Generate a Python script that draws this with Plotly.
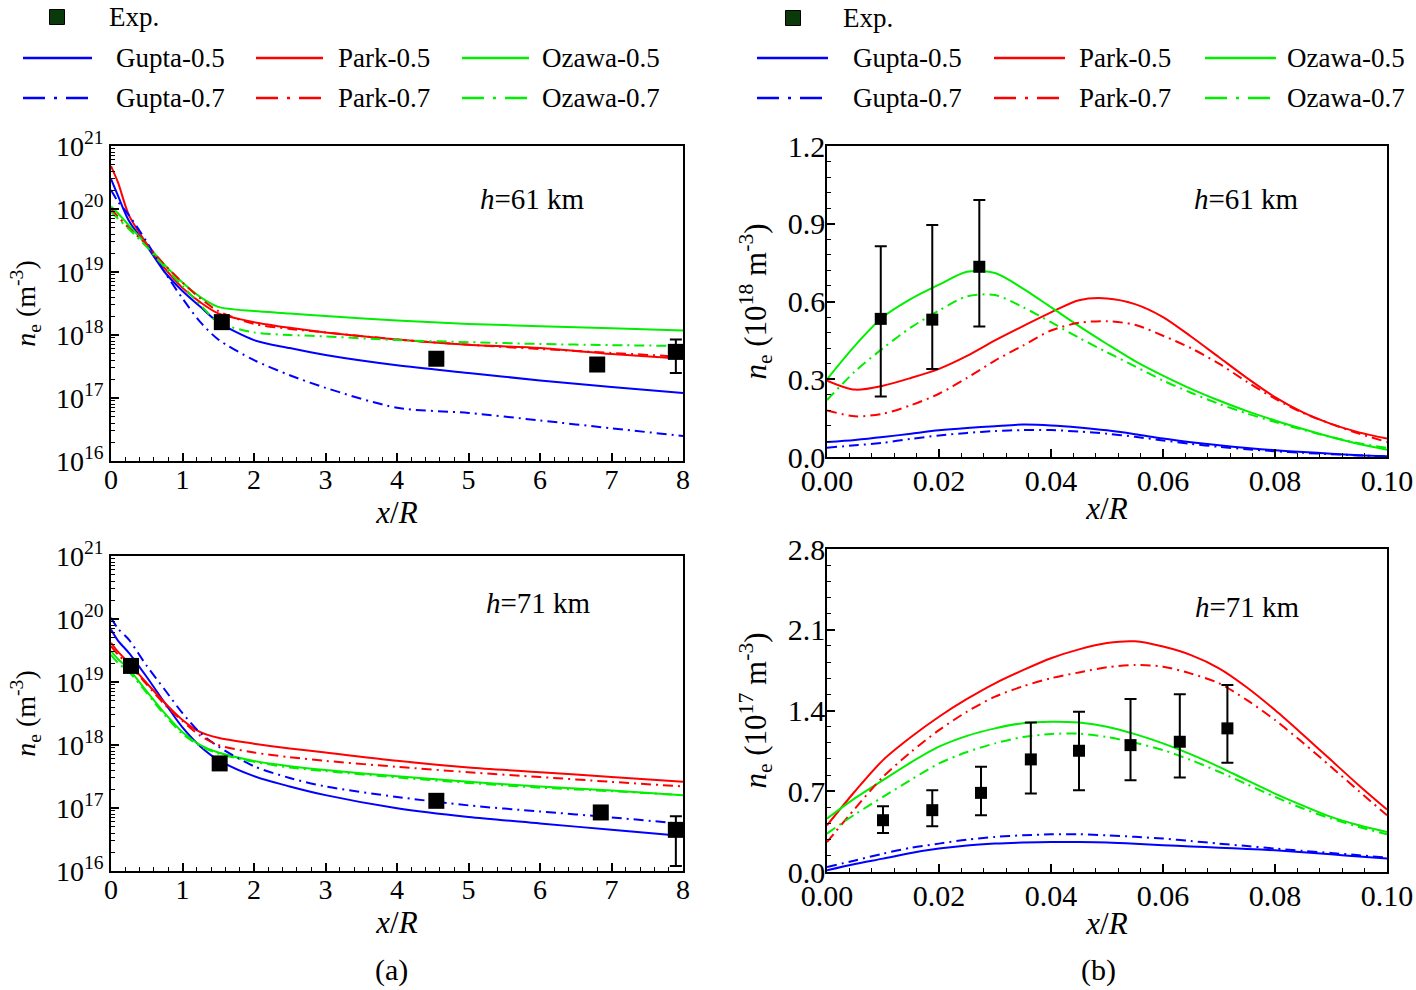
import plotly.graph_objects as go

# ---------------- data: panel (a), h=61 km (log scale) ----------------
xa = [0, 0.1, 0.25, 0.5, 0.75, 1, 1.25, 1.5, 2, 2.5, 3, 4, 5, 6, 7, 8]
a61_gupta05 = [3.0e20, 1.6e20, 6.5e19, 2.6e19, 1.0e19, 5.0e18, 2.8e18, 1.6e18, 8.3e17, 6.2e17, 4.8e17, 3.3e17, 2.5e17, 1.9e17, 1.5e17, 1.2e17]
a61_gupta07 = [2.0e20, 1.3e20, 8.0e19, 3.0e19, 1.0e19, 3.8e18, 1.6e18, 8.5e17, 4.0e17, 2.3e17, 1.45e17, 7.0e16, 5.8e16, 4.4e16, 3.3e16, 2.5e16]
a61_park05 = [4.8e20, 2.6e20, 8.0e19, 2.8e19, 1.15e19, 5.6e18, 3.3e18, 2.2e18, 1.6e18, 1.3e18, 1.1e18, 8.5e17, 7.0e17, 6.2e17, 5.0e17, 4.2e17]
a61_park07 = [1.0e20, 7.5e19, 5.0e19, 2.7e19, 1.3e19, 6.8e18, 3.8e18, 2.4e18, 1.5e18, 1.25e18, 1.1e18, 8.5e17, 7.0e17, 6.0e17, 5.2e17, 4.5e17]
a61_ozawa05 = [1.1e20, 8.5e19, 5.5e19, 2.7e19, 1.3e19, 6.8e18, 4.0e18, 2.8e18, 2.4e18, 2.2e18, 2.0e18, 1.7e18, 1.5e18, 1.38e18, 1.28e18, 1.18e18]
a61_ozawa07 = [9.0e19, 7.0e19, 4.8e19, 2.5e19, 1.2e19, 6.0e18, 3.0e18, 1.6e18, 1.1e18, 1.0e18, 9.5e17, 8.3e17, 7.7e17, 7.2e17, 6.9e17, 6.7e17]
a61_exp_x = [1.55, 4.55, 6.8, 7.9]
a61_exp_y = [1.6e18, 4.2e17, 3.4e17, 5.4e17]
a61_exp_hi = [0, 0, 0, 3.1e17]
a61_exp_lo = [0, 0, 0, 2.9e17]

# ---------------- data: panel (a), h=71 km (log scale) ----------------
a71_gupta05 = [6.8e19, 4.5e19, 2.9e19, 1.2e19, 4.7e18, 1.9e18, 9.5e17, 5.8e17, 3.2e17, 2.2e17, 1.6e17, 9.9e16, 7.2e16, 5.7e16, 4.5e16, 3.6e16]
a71_gupta07 = [1.05e20, 7.0e19, 4.7e19, 1.8e19, 7.6e18, 3.2e18, 1.55e18, 9.5e17, 4.6e17, 3.0e17, 2.2e17, 1.5e17, 1.1e17, 8.8e16, 7.1e16, 5.6e16]
a71_park05 = [4.2e19, 3.0e19, 2.0e19, 9.6e18, 4.7e18, 2.5e18, 1.6e18, 1.3e18, 1.05e18, 8.8e17, 7.6e17, 5.6e17, 4.4e17, 3.7e17, 3.1e17, 2.6e17]
a71_park07 = [3.7e19, 2.7e19, 1.9e19, 9.1e18, 4.4e18, 2.4e18, 1.4e18, 1.0e18, 7.6e17, 6.4e17, 5.6e17, 4.5e17, 3.7e17, 3.1e17, 2.6e17, 2.2e17]
a71_ozawa05 = [3.1e19, 2.3e19, 1.6e19, 7.1e18, 3.2e18, 1.6e18, 1.0e18, 7.6e17, 5.6e17, 4.6e17, 4.0e17, 3.2e17, 2.6e17, 2.2e17, 1.9e17, 1.6e17]
a71_ozawa07 = [2.7e19, 2.0e19, 1.45e19, 6.7e18, 3.0e18, 1.5e18, 9.6e17, 7.3e17, 5.4e17, 4.4e17, 3.85e17, 3.05e17, 2.5e17, 2.1e17, 1.85e17, 1.6e17]
a71_exp_x = [0.28, 1.52, 4.55, 6.85, 7.9]
a71_exp_y = [1.8e19, 5.1e17, 1.3e17, 8.5e16, 4.5e16]
a71_exp_hi = [0, 0, 0, 0, 2.9e16]
a71_exp_lo = [0, 0, 0, 0, 3.3e16]

# ---------------- data: panel (b), h=61 km (unit 1e18 m^-3) ----------------
xb = [0, 0.005, 0.01, 0.015, 0.02, 0.025, 0.03, 0.035, 0.04, 0.045, 0.05,
      0.055, 0.06, 0.065, 0.07, 0.075, 0.08, 0.085, 0.09, 0.095, 0.1]
b61_gupta05 = [0.058, 0.066, 0.077, 0.09, 0.103, 0.112, 0.119, 0.125, 0.122, 0.114, 0.103, 0.088, 0.071, 0.057, 0.045, 0.035, 0.026, 0.019, 0.013, 0.007, 0.003]
b61_gupta07 = [0.036, 0.045, 0.055, 0.07, 0.083, 0.093, 0.10, 0.104, 0.104, 0.098, 0.09, 0.078, 0.064, 0.051, 0.039, 0.03, 0.022, 0.016, 0.011, 0.006, 0.003]
b61_park05 = [0.295, 0.26, 0.275, 0.305, 0.34, 0.39, 0.45, 0.505, 0.558, 0.605, 0.612, 0.59, 0.54, 0.465, 0.385, 0.305, 0.231, 0.172, 0.128, 0.095, 0.071]
b61_park07 = [0.18, 0.157, 0.167, 0.20, 0.244, 0.305, 0.372, 0.43, 0.488, 0.518, 0.524, 0.51, 0.468, 0.42, 0.36, 0.29, 0.225, 0.17, 0.128, 0.09, 0.058]
b61_ozawa05 = [0.30, 0.43, 0.54, 0.61, 0.665, 0.715, 0.71, 0.65, 0.578, 0.505, 0.436, 0.37, 0.314, 0.263, 0.218, 0.177, 0.141, 0.108, 0.077, 0.05, 0.028]
b61_ozawa07 = [0.22, 0.33, 0.42, 0.50, 0.565, 0.62, 0.625, 0.578, 0.52, 0.46, 0.404, 0.35, 0.295, 0.248, 0.205, 0.168, 0.135, 0.105, 0.077, 0.053, 0.035]
b61_exp_x = [0.0096, 0.0188, 0.0272]
b61_exp_y = [0.533, 0.53, 0.734]
b61_exp_hi = [0.28, 0.365, 0.258]
b61_exp_lo = [0.30, 0.19, 0.23]

# ---------------- data: panel (b), h=71 km (unit 1e17 m^-3) ----------------
b71_gupta05 = [0.015, 0.07, 0.116, 0.165, 0.203, 0.23, 0.246, 0.255, 0.26, 0.259, 0.255, 0.245, 0.232, 0.222, 0.211, 0.2, 0.188, 0.172, 0.153, 0.135, 0.116]
b71_gupta07 = [0.043, 0.10, 0.159, 0.21, 0.246, 0.28, 0.304, 0.318, 0.327, 0.327, 0.318, 0.305, 0.29, 0.268, 0.246, 0.225, 0.203, 0.183, 0.165, 0.145, 0.124]
b71_park05 = [0.405, 0.70, 0.97, 1.17, 1.346, 1.50, 1.636, 1.75, 1.853, 1.93, 1.985, 2.0, 1.954, 1.88, 1.766, 1.60, 1.404, 1.19, 0.97, 0.75, 0.541]
b71_park07 = [0.26, 0.55, 0.825, 1.04, 1.23, 1.39, 1.52, 1.61, 1.68, 1.73, 1.775, 1.795, 1.78, 1.72, 1.636, 1.49, 1.317, 1.12, 0.912, 0.70, 0.492]
b71_ozawa05 = [0.463, 0.64, 0.796, 0.95, 1.086, 1.18, 1.245, 1.29, 1.303, 1.295, 1.26, 1.195, 1.115, 1.02, 0.912, 0.795, 0.68, 0.575, 0.478, 0.405, 0.347]
b71_ozawa07 = [0.333, 0.50, 0.651, 0.80, 0.941, 1.04, 1.115, 1.17, 1.196, 1.20, 1.17, 1.12, 1.057, 0.97, 0.869, 0.76, 0.651, 0.55, 0.463, 0.39, 0.327]
b71_exp_x = [0.01, 0.0188, 0.0275, 0.0364, 0.045, 0.0542, 0.063, 0.0715]
b71_exp_y = [0.449, 0.536, 0.686, 0.976, 1.051, 1.10, 1.129, 1.245]
b71_exp_hi = [0.121, 0.173, 0.226, 0.321, 0.339, 0.40, 0.411, 0.376]
b71_exp_lo = [0.110, 0.139, 0.194, 0.296, 0.342, 0.304, 0.310, 0.298]

# ---------------- labels ----------------
series_names = ["Gupta-0.5", "Park-0.5", "Ozawa-0.5", "Gupta-0.7", "Park-0.7", "Ozawa-0.7"]
log_tick_vals = [1e16, 1e17, 1e18, 1e19, 1e20, 1e21]
log_tick_text = ["10<sup>16</sup>", "10<sup>17</sup>", "10<sup>18</sup>", "10<sup>19</sup>", "10<sup>20</sup>", "10<sup>21</sup>"]

# ---------------- styling ----------------
W, H = 1416, 990
FONT = "Liberation Serif"
BLUE, RED, GREEN = "#0000FF", "#FF0000", "#00EE00"
DASHDOT = "10px,5px,2px,5px"
LEG_DASHDOT = "22px,9px,3px,9px"

fig = go.Figure()


def add_curves(x, data, xa_name, ya_name):
    styles = [(BLUE, "solid"), (RED, "solid"), (GREEN, "solid"),
              (BLUE, DASHDOT), (RED, DASHDOT), (GREEN, DASHDOT)]
    for name, y, (c, d) in zip(series_names, data, styles):
        fig.add_trace(go.Scatter(x=x, y=y, mode="lines", name=name, showlegend=False,
                                 line=dict(color=c, width=2, dash=d, shape="spline", smoothing=0.8),
                                 xaxis=xa_name, yaxis=ya_name))


def add_exp(x, y, hi, lo, xa_name, ya_name, size):
    fig.add_trace(go.Scatter(x=x, y=y, mode="markers", name="Exp.", showlegend=False,
                             marker=dict(symbol="square", size=size, color="black"),
                             error_y=dict(type="data", symmetric=False, array=hi, arrayminus=lo,
                                          color="black", thickness=2, width=6),
                             xaxis=xa_name, yaxis=ya_name))


add_curves(xa, [a61_gupta05, a61_park05, a61_ozawa05, a61_gupta07, a61_park07, a61_ozawa07], "x", "y")
add_exp(a61_exp_x, a61_exp_y, a61_exp_hi, a61_exp_lo, "x", "y", 16)
add_curves(xb, [b61_gupta05, b61_park05, b61_ozawa05, b61_gupta07, b61_park07, b61_ozawa07], "x2", "y2")
add_exp(b61_exp_x, b61_exp_y, b61_exp_hi, b61_exp_lo, "x2", "y2", 12)
add_curves(xa, [a71_gupta05, a71_park05, a71_ozawa05, a71_gupta07, a71_park07, a71_ozawa07], "x3", "y3")
add_exp(a71_exp_x, a71_exp_y, a71_exp_hi, a71_exp_lo, "x3", "y3", 16)
add_curves(xb, [b71_gupta05, b71_park05, b71_ozawa05, b71_gupta07, b71_park07, b71_ozawa07], "x4", "y4")
add_exp(b71_exp_x, b71_exp_y, b71_exp_hi, b71_exp_lo, "x4", "y4", 12)

minor_log = [float(m) * 10.0 ** e for e in range(16, 21) for m in range(2, 10)]

tickfont_a = dict(family=FONT, size=28, color="black")
tickfont_b = dict(family=FONT, size=30, color="black")
xtitlefont = dict(family=FONT, size=31, color="black")
ytitlefont_a = dict(family=FONT, size=28, color="black")
ytitlefont_b = dict(family=FONT, size=31, color="black")


def px_x(v):
    return v / W


def px_y(v):
    return 1 - v / H


common = dict(showline=True, linecolor="black", linewidth=1.5, mirror=True, ticks="inside",
              ticklen=8, tickwidth=1.5, tickcolor="black", showgrid=False, zeroline=False,
              automargin=False)

xdom_a = [px_x(111), px_x(683)]
xdom_b = [px_x(827), px_x(1387)]

xtitle = dict(text="<i>x</i>/<i>R</i>", font=xtitlefont, standoff=2)
ytitle_a = dict(text="<i>n</i><sub>e</sub> (m<sup>-3</sup>)", font=ytitlefont_a, standoff=12)
ytitle_b61 = dict(text="<i>n</i><sub>e</sub> (10<sup>18</sup> m<sup>-3</sup>)", font=ytitlefont_b, standoff=12)
ytitle_b71 = dict(text="<i>n</i><sub>e</sub> (10<sup>17</sup> m<sup>-3</sup>)", font=ytitlefont_b, standoff=12)

xminor_a = dict(ticks="inside", ticklen=4, dtick=0.2, tickcolor="black", tickwidth=1)
xminor_b = dict(ticks="inside", ticklen=4, dtick=0.004, tickcolor="black", tickwidth=1)
yminor_log = dict(ticks="inside", ticklen=4, tickmode="array", tickvals=minor_log,
                  tickcolor="black", tickwidth=1)

fig.update_layout(
    width=W, height=H, margin=dict(l=0, r=0, t=0, b=0, autoexpand=False),
    paper_bgcolor="white", plot_bgcolor="white", showlegend=False,
    font=dict(family=FONT, color="black"),
    xaxis=dict(domain=xdom_a, anchor="y", range=[0, 8], tickmode="linear", dtick=1, tick0=0,
               minor=xminor_a, ticklabelstandoff=-7, tickfont=tickfont_a, title=xtitle, **common),
    yaxis=dict(domain=[px_y(461), px_y(146)], anchor="x", type="log", range=[16, 21],
               tickmode="array", tickvals=log_tick_vals, ticktext=log_tick_text,
               minor=yminor_log, tickfont=tickfont_a, title=ytitle_a, **common),
    xaxis2=dict(domain=xdom_b, anchor="y2", range=[0, 0.1], tickmode="linear", dtick=0.02, tick0=0,
                tickformat=".2f", minor=xminor_b, ticklabelstandoff=-4, tickfont=tickfont_b,
                title=xtitle, **common),
    yaxis2=dict(domain=[px_y(457), px_y(146)], anchor="x2", range=[0, 1.2], tickmode="linear",
                dtick=0.3, tick0=0, tickformat=".1f",
                minor=dict(ticks="inside", ticklen=4, dtick=0.06, tickcolor="black", tickwidth=1),
                ticklabelstandoff=-6, tickfont=tickfont_b, title=ytitle_b61, **common),
    xaxis3=dict(domain=xdom_a, anchor="y3", range=[0, 8], tickmode="linear", dtick=1, tick0=0,
                minor=xminor_a, ticklabelstandoff=-7, tickfont=tickfont_a, title=xtitle, **common),
    yaxis3=dict(domain=[px_y(871), px_y(556)], anchor="x3", type="log", range=[16, 21],
                tickmode="array", tickvals=log_tick_vals, ticktext=log_tick_text,
                minor=yminor_log, tickfont=tickfont_a, title=ytitle_a, **common),
    xaxis4=dict(domain=xdom_b, anchor="y4", range=[0, 0.1], tickmode="linear", dtick=0.02, tick0=0,
                tickformat=".2f", minor=xminor_b, ticklabelstandoff=-4, tickfont=tickfont_b,
                title=xtitle, **common),
    yaxis4=dict(domain=[px_y(872), px_y(549)], anchor="x4", range=[0, 2.8], tickmode="linear",
                dtick=0.7, tick0=0, tickformat=".1f",
                minor=dict(ticks="inside", ticklen=4, dtick=0.14, tickcolor="black", tickwidth=1),
                ticklabelstandoff=-6, tickfont=tickfont_b, title=ytitle_b71, **common),
)

annfont = dict(family=FONT, size=29, color="black")
anns = [
    dict(xref="x domain", yref="y domain", x=0.737, y=0.832, text="<i>h</i>=61 km"),
    dict(xref="x2 domain", yref="y2 domain", x=0.749, y=0.83, text="<i>h</i>=61 km"),
    dict(xref="x3 domain", yref="y3 domain", x=0.747, y=0.851, text="<i>h</i>=71 km"),
    dict(xref="x4 domain", yref="y4 domain", x=0.751, y=0.821, text="<i>h</i>=71 km"),
]
for a in anns:
    fig.add_annotation(showarrow=False, font=annfont, xanchor="center", yanchor="middle", **a)

# panel labels
fig.add_annotation(xref="paper", yref="paper", x=px_x(391), y=px_y(970), text="(a)", showarrow=False,
                   font=dict(family=FONT, size=30, color="black"), xanchor="center", yanchor="middle")
fig.add_annotation(xref="paper", yref="paper", x=px_x(1098), y=px_y(970), text="(b)", showarrow=False,
                   font=dict(family=FONT, size=30, color="black"), xanchor="center", yanchor="middle")

# ---------------- manual legends (top of each column) ----------------
legfont = dict(family=FONT, size=27, color="black")
legend_blocks = [
    dict(exp=(57, 17, 107), rows=[58, 98],
         cols=[(23, 92, 114), (256, 323, 336), (462, 529, 540)]),
    dict(exp=(793, 18, 841), rows=[58, 98],
         cols=[(757, 828, 851), (994, 1065, 1077), (1205, 1276, 1285)]),
]
colors = [BLUE, RED, GREEN]
for blk in legend_blocks:
    ex, ey, etx = blk["exp"]
    fig.add_shape(type="rect", xref="paper", yref="paper", x0=px_x(ex - 7.5), x1=px_x(ex + 7.5),
                  y0=px_y(ey + 7.5), y1=px_y(ey - 7.5), fillcolor="#0a3a0a",
                  line=dict(color="#000000", width=1))
    fig.add_annotation(xref="paper", yref="paper", x=px_x(etx), y=px_y(ey), text="Exp.",
                       showarrow=False, font=legfont, xanchor="left", yanchor="middle")
    for r, ry in enumerate(blk["rows"]):
        for c, (lx0, lx1, tx) in enumerate(blk["cols"]):
            name = series_names[r * 3 + c]
            fig.add_shape(type="line", xref="paper", yref="paper", x0=px_x(lx0), x1=px_x(lx1),
                          y0=px_y(ry), y1=px_y(ry),
                          line=dict(color=colors[c], width=2.5, dash="solid" if r == 0 else LEG_DASHDOT))
            fig.add_annotation(xref="paper", yref="paper", x=px_x(tx), y=px_y(ry), text=name,
                               showarrow=False, font=legfont, xanchor="left", yanchor="middle")

fig.write_html("out.html", config={"displayModeBar": False},
               post_script="document.body.style.margin='0';document.body.style.overflow='hidden';")
